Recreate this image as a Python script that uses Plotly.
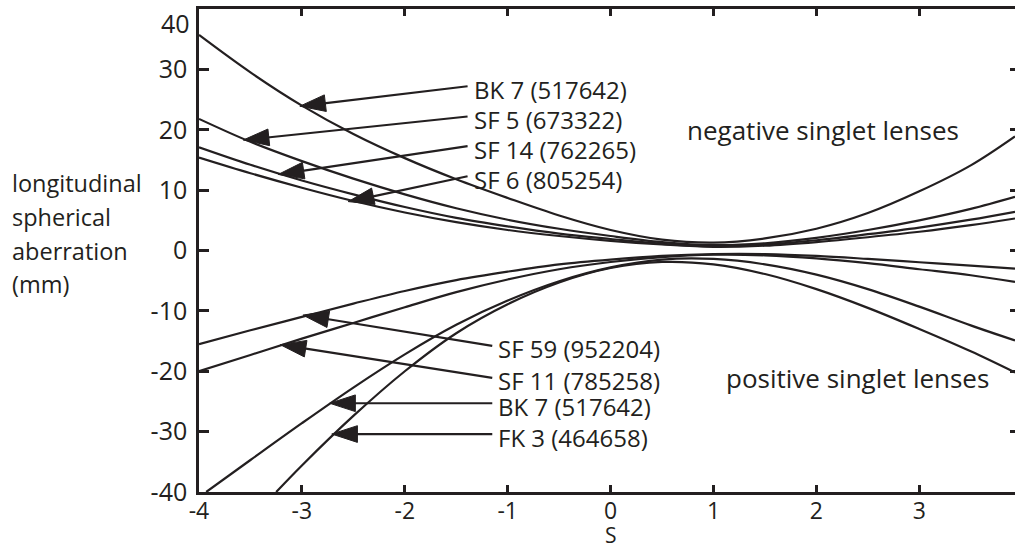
import plotly.graph_objects as go

# ---------------- data ----------------
S_GRID = [-4, -3.5, -3, -2.5, -2, -1.5, -1, -0.5, 0, 0.5, 1, 1.5, 2, 2.5, 3, 3.5, 3.93]

# negative singlet lenses
NEG_BK7 = [35.7, 29.5, 24.0, 19.3, 15.3, 11.8, 8.7, 5.8, 3.4, 1.8, 1.3, 2.0, 3.6, 6.2, 9.8, 14.1, 18.9]
NEG_SF5 = [21.8, 18.0, 14.8, 11.9, 9.3, 7.0, 5.1, 3.6, 2.4, 1.4, 0.9, 1.2, 2.1, 3.4, 5.0, 6.9, 8.9]
NEG_SF14 = [17.1, 14.2, 11.6, 9.3, 7.2, 5.4, 4.0, 2.8, 1.9, 1.1, 0.7, 1.0, 1.7, 2.7, 3.8, 5.1, 6.4]
NEG_SF6 = [15.4, 12.8, 10.4, 8.2, 6.3, 4.7, 3.4, 2.4, 1.6, 1.0, 0.6, 0.8, 1.4, 2.2, 3.1, 4.2, 5.3]

# positive singlet lenses
POS_SF59 = [-15.5, -13.2, -11.0, -8.8, -6.7, -4.9, -3.5, -2.3, -1.5, -0.9, -0.6, -0.6, -0.9, -1.4, -1.95, -2.5, -3.0]
POS_SF11 = [-20.0, -17.3, -14.6, -12.0, -9.4, -6.9, -4.8, -3.1, -1.9, -1.1, -0.7, -0.8, -1.3, -2.1, -3.1, -4.1, -5.2]
POS_BK7_S = [-3.93, -3.5, -3, -2.5, -2, -1.5, -1, -0.5, 0, 0.5, 1, 1.5, 2, 2.5, 3, 3.5, 3.93]
POS_BK7 = [-40, -34.7, -28.6, -22.7, -17.2, -12.3, -8.3, -5.1, -2.8, -1.5, -1.4, -2.3, -4.0, -6.4, -9.3, -12.4, -14.9]
POS_FK3_S = [-3.25, -3, -2.5, -2, -1.5, -1, -0.5, 0, 0.5, 1, 1.5, 2, 2.5, 3, 3.5, 3.93]
POS_FK3 = [-40, -35.6, -27.4, -20.0, -13.7, -8.9, -5.3, -2.9, -1.9, -2.3, -3.9, -6.4, -9.5, -13.0, -16.7, -20.2]

# arrow labels
LABELS = ["BK 7 (517642)", "SF 5 (673322)", "SF 14 (762265)", "SF 6 (805254)",
          "SF 59 (952204)", "SF 11 (785258)", "BK 7 (517642)", "FK 3 (464658)"]
TAIL_X = [-1.39, -1.39, -1.39, -1.39, -1.15, -1.15, -1.15, -1.15]
TAIL_Y = [27.2, 22.2, 17.3, 12.3, -15.8, -21.1, -25.3, -30.4]
TIP_X = [-3.02, -3.57, -3.23, -2.55, -2.99, -3.21, -2.73, -2.71]
TIP_Y = [23.9, 18.3, 12.6, 8.1, -10.7, -15.6, -25.3, -30.4]

X_TICKS = [-4, -3, -2, -1, 0, 1, 2, 3]
X_TICKTEXT = ["-4", "-3", "-2", "-1", "0", "1", "2", "3"]
Y_TICKS = [-40, -30, -20, -10, 0, 10, 20, 30]
Y_TICKTEXT = ["-40", "-30", "-20", "-10", "0", "10", "20", "30"]

INK = "#231f20"
FONT = "Open Sans"

fig = go.Figure()

curves = [
    (S_GRID, NEG_BK7), (S_GRID, NEG_SF5), (S_GRID, NEG_SF14), (S_GRID, NEG_SF6),
    (S_GRID, POS_SF59), (S_GRID, POS_SF11), (POS_BK7_S, POS_BK7), (POS_FK3_S, POS_FK3),
]
for xs, ys in curves:
    fig.add_trace(go.Scatter(x=xs, y=ys, mode="lines",
                             line=dict(color=INK, width=2.2, shape="spline", smoothing=1.0),
                             showlegend=False, hoverinfo="skip"))

# arrows
for i in range(len(LABELS)):
    fig.add_trace(go.Scatter(
        x=[TAIL_X[i], TIP_X[i]], y=[TAIL_Y[i], TIP_Y[i]],
        mode="lines+markers",
        line=dict(color=INK, width=2.2),
        marker=dict(symbol="arrow", size=[0, 27], angleref="previous", color=INK,
                    opacity=1, line=dict(width=1, color=INK)),
        showlegend=False, hoverinfo="skip"))
    fig.add_annotation(x=TAIL_X[i], y=TAIL_Y[i], xref="x", yref="y",
                       text=LABELS[i], showarrow=False, xanchor="left", yanchor="middle",
                       xshift=4, yshift=-3,
                       font=dict(family=FONT, size=24, color=INK))

# dummy trace for right-hand tick axis
fig.add_trace(go.Scatter(x=[0], y=[0], yaxis="y2", mode="markers",
                         marker=dict(opacity=0), showlegend=False, hoverinfo="skip"))

# region labels
fig.add_annotation(x=0.72, y=19.9, xref="x", yref="y", text="negative singlet lenses",
                   showarrow=False, xanchor="left", yanchor="middle",
                   font=dict(family=FONT, size=26, color=INK))
fig.add_annotation(x=1.10, y=-21.1, xref="x", yref="y", text="positive singlet lenses",
                   showarrow=False, xanchor="left", yanchor="middle",
                   font=dict(family=FONT, size=26, color=INK))

# y title lines
for txt, yy in zip(["longitudinal", "spherical", "aberration", "(mm)"], [11.1, 5.6, 0.0, -5.5]):
    fig.add_annotation(x=-0.232, y=yy, xref="paper", yref="y", text=txt,
                       showarrow=False, xanchor="left", yanchor="middle",
                       font=dict(family=FONT, size=23.5, color=INK))

# top tick label "40" (shifted down as in reference)
fig.add_annotation(x=-0.0086, y=0.972, xref="paper", yref="paper", text="40",
                   showarrow=False, xanchor="right", yanchor="middle",
                   font=dict(family=FONT, size=25, color=INK))

# x title
fig.add_annotation(x=0, y=-0.089, xref="x", yref="paper", text="S",
                   showarrow=False, xanchor="center", yanchor="middle",
                   font=dict(family=FONT, size=21, color=INK))

fig.update_layout(
    width=1015, height=550,
    margin=dict(l=199, r=0, t=9, b=58),
    paper_bgcolor="white", plot_bgcolor="white",
    showlegend=False,
    xaxis=dict(range=[-4, 3.93], tickvals=X_TICKS, ticktext=X_TICKTEXT,
               showline=True, linecolor=INK, linewidth=2.5, mirror="ticks",
               ticks="inside", ticklen=7, tickwidth=2.5, tickcolor=INK,
               showgrid=False, zeroline=False, ticklabelstandoff=-3,
               tickfont=dict(family=FONT, size=23, color=INK)),
    yaxis=dict(range=[-40, 40], tickvals=Y_TICKS, ticktext=Y_TICKTEXT,
               showline=True, linecolor=INK, linewidth=2.5, mirror=False,
               ticks="inside", ticklen=10, tickwidth=2.5, tickcolor=INK,
               showgrid=False, zeroline=False, ticklabelstandoff=4,
               tickfont=dict(family=FONT, size=25, color=INK)),
    yaxis2=dict(range=[-40, 40], overlaying="y", side="right", anchor="x",
                tickvals=[-30, -20, -10, 0, 10, 20, 30],
                ticks="inside", ticklen=5, tickwidth=2.5, tickcolor=INK,
                showticklabels=False, showline=False, showgrid=False, zeroline=False),
)

fig.write_html("out.html")
